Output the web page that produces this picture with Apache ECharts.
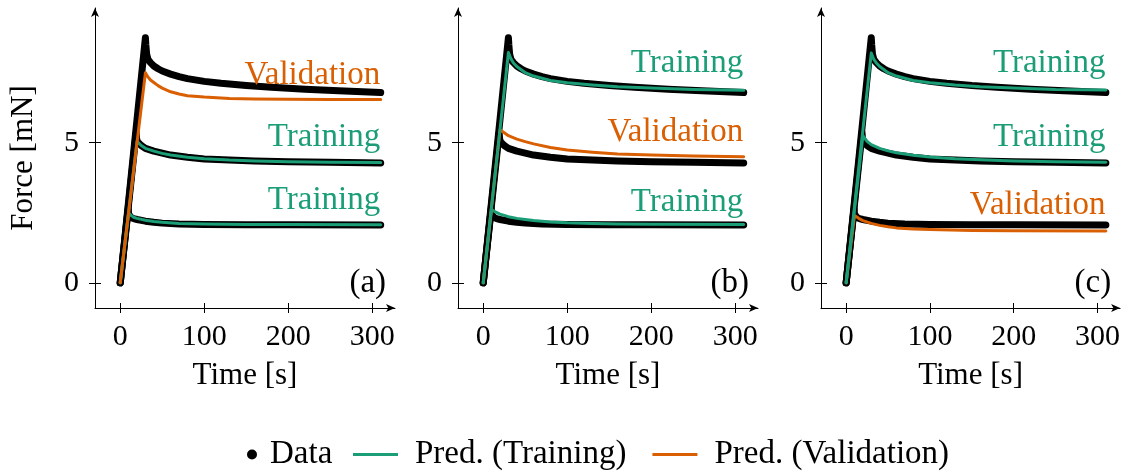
<!DOCTYPE html>
<html><head><meta charset="utf-8">
<script src="https://cdn.jsdelivr.net/npm/echarts@6/dist/echarts.min.js"></script>
<style>html,body{margin:0;padding:0;background:#fff}#c{width:1123px;height:471px}</style>
</head><body><div id="c"></div>
<script>
// ---- Tick labels ----
const xTicks = [0, 100, 200, 300];
const yTicks = [0, 5];

// ---- Measured data (shared by all panels) ----
const dataTopT = [0, 30, 30.5, 31.5, 33, 36, 40, 45, 50, 60, 70, 80, 100, 120, 150, 180, 220, 260, 310];
const dataTopF = [0, 8.75, 8.5, 8.15, 7.98, 7.86, 7.74, 7.64, 7.56, 7.45, 7.36, 7.29, 7.19, 7.12, 7.04, 6.98, 6.91, 6.86, 6.79];
const dataMidT = [0, 19, 19.5, 20.5, 22, 25, 30, 40, 50, 60, 80, 100, 130, 160, 200, 250, 310];
const dataMidF = [0, 5.35, 5.15, 5.03, 4.96, 4.9, 4.8, 4.7, 4.63, 4.56, 4.48, 4.42, 4.38, 4.35, 4.32, 4.3, 4.28];
const dataLowT = [0, 9.5, 10, 11, 13, 16, 20, 30, 40, 50, 70, 100, 150, 200, 310];
const dataLowF = [0, 2.62, 2.45, 2.38, 2.33, 2.29, 2.26, 2.2, 2.16, 2.13, 2.1, 2.08, 2.07, 2.07, 2.06];

// ---- Predictions, panel (a) ----
const aLowT = [0, 10, 13, 16, 20, 30, 40, 50, 70, 100, 150, 200, 310];
const aLowF = [0, 2.5, 2.4, 2.34, 2.3, 2.23, 2.19, 2.16, 2.12, 2.1, 2.08, 2.08, 2.07];
const aMidT = [0, 20, 25, 30, 40, 50, 60, 80, 100, 130, 160, 200, 250, 310];
const aMidF = [0, 5.05, 4.9, 4.8, 4.7, 4.62, 4.56, 4.48, 4.43, 4.38, 4.35, 4.32, 4.3, 4.29];
const aTopT = [0, 30, 33, 36, 40, 45, 50, 60, 70, 80, 100, 130, 160, 200, 250, 310];
const aTopF = [0, 7.5, 7.35, 7.24, 7.15, 7.04, 6.95, 6.82, 6.74, 6.68, 6.63, 6.58, 6.56, 6.55, 6.54, 6.54];

// ---- Predictions, panel (b) ----
const bLowT = [0, 10, 15, 20, 30, 40, 50, 60, 80, 100, 130, 160, 200, 310];
const bLowF = [0, 2.62, 2.52, 2.45, 2.36, 2.3, 2.26, 2.22, 2.17, 2.14, 2.12, 2.1, 2.09, 2.08];
const bMidT = [0, 20, 22, 30, 40, 50, 60, 80, 100, 130, 160, 200, 250, 310];
const bMidF = [0, 5.46, 5.4, 5.25, 5.13, 5.04, 4.96, 4.83, 4.74, 4.66, 4.6, 4.56, 4.53, 4.5];
const bTopT = [0, 30, 33, 36, 40, 50, 60, 80, 100, 130, 160, 200, 250, 310];
const bTopF = [0, 8.22, 8.0, 7.85, 7.72, 7.5, 7.38, 7.22, 7.14, 7.06, 7.0, 6.95, 6.9, 6.87];

// ---- Predictions, panel (c) ----
const cLowT = [0, 10, 15, 20, 30, 40, 50, 60, 80, 100, 150, 200, 310];
const cLowF = [0, 2.4, 2.3, 2.22, 2.12, 2.05, 2.0, 1.96, 1.92, 1.9, 1.87, 1.86, 1.85];
const cMidT = [0, 20, 25, 30, 40, 50, 60, 80, 100, 130, 160, 200, 250, 310];
const cMidF = [0, 5.25, 5.05, 4.93, 4.8, 4.71, 4.64, 4.55, 4.49, 4.43, 4.39, 4.35, 4.32, 4.3];
const cTopT = [0, 30, 33, 36, 40, 50, 60, 80, 100, 130, 160, 200, 250, 310];
const cTopF = [0, 8.2, 7.98, 7.85, 7.72, 7.5, 7.38, 7.22, 7.14, 7.06, 7.0, 6.95, 6.9, 6.88];

// ---- Texts ----
const panelTags = ['(a)', '(b)', '(c)'];
const seriesNames = { data: 'Data', train: 'Pred. (Training)', valid: 'Pred. (Validation)' };
const curveLabels = { train: 'Training', valid: 'Validation' };

// ---- Layout / style ----
const FONT = '"Liberation Serif", "DejaVu Serif", serif';
const FS_TICK = 30, FS_NAME = 31, FS_TEXT = 33;
const GREEN = '#1b9e77', ORANGE = '#d95f02';
const gridLefts = [95, 458, 821];
const X_MIN = -30, X_MAX = 327, Y_MIN = -0.9, Y_MAX = 9.81;
const LABEL_X = 310;

const zip = (t, f) => t.map((v, i) => [v, f[i]]);

const panels = [
  { preds: [[aLowT, aLowF, 'train', 2.96], [aMidT, aMidF, 'train', 5.18], [aTopT, aTopF, 'valid', 7.39]] },
  { preds: [[bLowT, bLowF, 'train', 2.89], [bMidT, bMidF, 'valid', 5.36], [bTopT, bTopF, 'train', 7.82]] },
  { preds: [[cLowT, cLowF, 'valid', 2.75], [cMidT, cMidF, 'train', 5.18], [cTopT, cTopF, 'train', 7.82]] }
];

const grid = [], xAxis = [], yAxis = [], series = [];
const axisLineStyle = { color: '#000', width: 1 };

panels.forEach((p, i) => {
  grid.push({ left: gridLefts[i], top: 8, width: 300, height: 300 });
  xAxis.push({
    type: 'value', gridIndex: i, min: X_MIN, max: X_MAX,
    name: 'Time [s]', nameLocation: 'middle', nameGap: 52,
    nameTextStyle: { fontFamily: FONT, fontSize: FS_NAME, color: '#000' },
    axisLine: { show: true, onZero: false, lineStyle: axisLineStyle, symbol: ['none', 'arrow'], symbolSize: [6, 9] },
    axisTick: { show: true, length: 5, lineStyle: axisLineStyle, customValues: xTicks },
    axisLabel: { show: true, margin: 14, fontFamily: FONT, fontSize: FS_TICK, color: '#000', customValues: xTicks },
    splitLine: { show: false }
  });
  xAxis.push({
    type: 'value', gridIndex: i, min: X_MIN, max: X_MAX, position: 'bottom',
    axisLine: { show: false, onZero: false },
    axisTick: { show: true, inside: true, length: 5, lineStyle: axisLineStyle, customValues: xTicks },
    axisLabel: { show: false }, splitLine: { show: false }
  });
  yAxis.push({
    type: 'value', gridIndex: i, min: Y_MIN, max: Y_MAX,
    name: i === 0 ? 'Force [mN]' : '', nameLocation: 'middle', nameGap: 56,
    nameTextStyle: { fontFamily: FONT, fontSize: FS_NAME, color: '#000' },
    axisLine: { show: true, onZero: false, lineStyle: axisLineStyle, symbol: ['none', 'arrow'], symbolSize: [6, 9] },
    axisTick: { show: true, length: 6, lineStyle: axisLineStyle, customValues: yTicks },
    axisLabel: { show: true, margin: 16, fontFamily: FONT, fontSize: FS_TICK, color: '#000', customValues: yTicks },
    splitLine: { show: false }
  });
  yAxis.push({
    type: 'value', gridIndex: i, min: Y_MIN, max: Y_MAX, position: 'left',
    axisLine: { show: false, onZero: false },
    axisTick: { show: true, inside: true, length: 6, lineStyle: axisLineStyle, customValues: yTicks },
    axisLabel: { show: false }, splitLine: { show: false }
  });

  const xi = 2 * i, yi = 2 * i;
  [[dataLowT, dataLowF], [dataMidT, dataMidF], [dataTopT, dataTopF]].forEach((d, k) => {
    const s = {
      type: 'line', name: seriesNames.data, xAxisIndex: xi, yAxisIndex: yi,
      data: zip(d[0], d[1]), showSymbol: false, symbol: 'circle', color: '#000',
      lineStyle: { color: '#000', width: 7, cap: 'round', join: 'round' },
      itemStyle: { color: '#000' }, animation: false, silent: true, z: 2
    };
    if (k === 0) {
      s.markPoint = {
        symbol: 'rect', symbolSize: 1, itemStyle: { color: 'rgba(0,0,0,0)' }, silent: true, animation: false,
        data: [{ coord: [317, -0.02], label: { show: true, position: 'left', distance: 0, formatter: panelTags[i], color: '#000', fontFamily: FONT, fontSize: FS_TEXT } }]
      };
    }
    series.push(s);
  });
  p.preds.forEach((pr) => {
    const col = pr[2] === 'train' ? GREEN : ORANGE;
    series.push({
      type: 'line', name: seriesNames[pr[2]], xAxisIndex: xi, yAxisIndex: yi,
      data: zip(pr[0], pr[1]), showSymbol: false, color: col,
      lineStyle: { color: col, width: 3, cap: 'round', join: 'round' },
      itemStyle: { color: col }, animation: false, silent: true, z: 3,
      markPoint: {
        symbol: 'rect', symbolSize: 1, itemStyle: { color: 'rgba(0,0,0,0)' }, silent: true, animation: false,
        data: [{ coord: [LABEL_X, pr[3]], label: { show: true, position: 'left', distance: 0, formatter: curveLabels[pr[2]], color: col, fontFamily: FONT, fontSize: FS_TEXT } }]
      }
    });
  });
});

const option = {
  backgroundColor: '#fff',
  animation: false,
  grid, xAxis, yAxis, series,
  legend: [
    {
      data: [{ name: seriesNames.data, icon: 'circle' }], left: 247, top: 438, padding: 0,
      itemWidth: 10, itemHeight: 10,
      textStyle: { fontFamily: FONT, fontSize: FS_TEXT, color: '#000', padding: [0, 0, 0, 8] }
    },
    {
      data: [seriesNames.train, seriesNames.valid], left: 353, top: 438, padding: 0,
      icon: 'rect', itemWidth: 45, itemHeight: 3, itemGap: 26,
      textStyle: { fontFamily: FONT, fontSize: FS_TEXT, color: '#000', padding: [0, 0, 0, 12] }
    }
  ]
};

const chart = echarts.init(document.getElementById('c'), null, { renderer: 'canvas' });
chart.setOption(option);
</script>
</body></html>
